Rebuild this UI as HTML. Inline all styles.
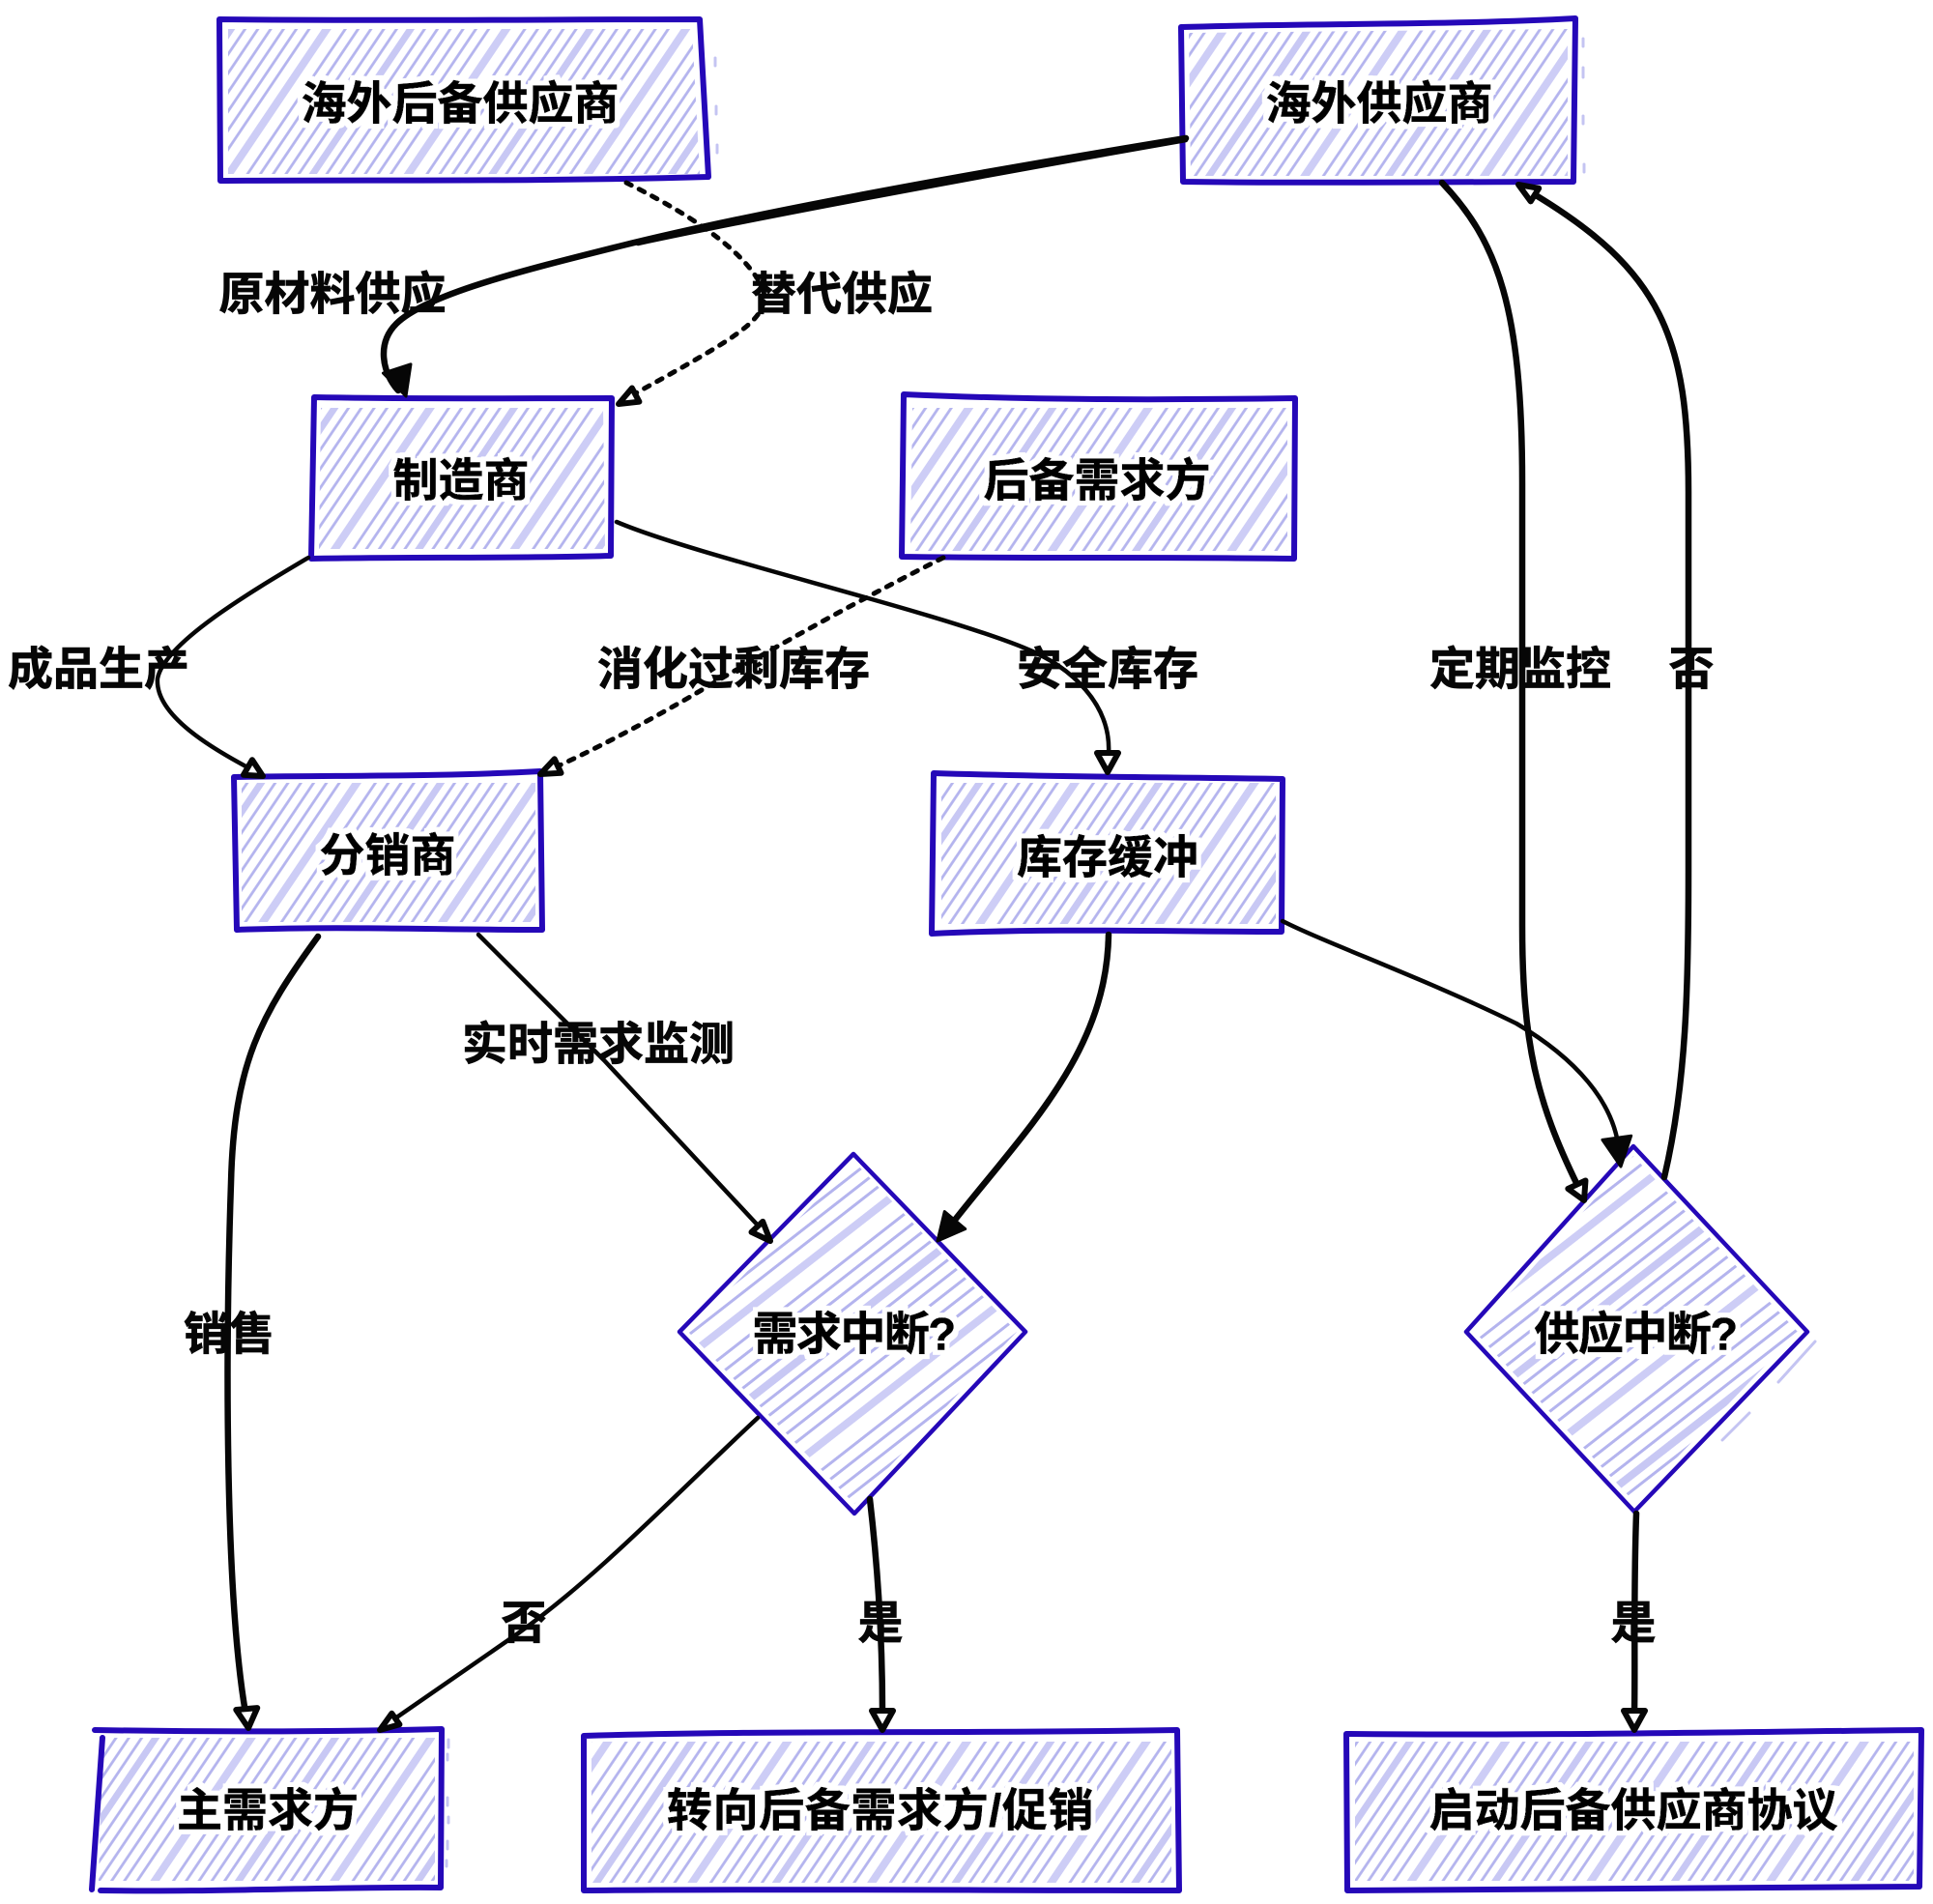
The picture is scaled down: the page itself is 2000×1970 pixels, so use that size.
<!DOCTYPE html>
<html lang="zh">
<head>
<meta charset="utf-8">
<style>
html,body{margin:0;padding:0;background:#fff}
svg{display:block}
text{font-family:"Liberation Sans","Noto Sans CJK SC","WenQuanYi Zen Hei",sans-serif;font-size:47px;font-weight:700;fill:#060606;stroke:#060606;stroke-width:.7px;text-anchor:middle;dominant-baseline:central}
.n{filter:url(#halo)}
.b{fill:none;stroke:#2508b8;stroke-width:6;stroke-linecap:round;stroke-linejoin:round}
.d{fill:none;stroke:#2508b8;stroke-width:4.5;stroke-linecap:round;stroke-linejoin:round}
.e{fill:none;stroke:#060606;stroke-width:4.5;stroke-linecap:round;stroke-linejoin:round}
.t{stroke-width:6.5}
.dash{stroke-dasharray:6 9;stroke-width:5}
.af{fill:#060606;stroke:#060606;stroke-width:3;stroke-linejoin:round}
.ao{fill:#fff;stroke:#060606;stroke-width:6;stroke-linejoin:round}
.s{fill:none;stroke:#c4c4f2;stroke-width:3;stroke-linecap:round}
</style>
</head>
<body>
<svg xmlns="http://www.w3.org/2000/svg" width="2000" height="1970" viewBox="0 0 2000 1970">
<defs>
<filter id="halo" x="-10%" y="-30%" width="120%" height="160%">
<feMorphology in="SourceAlpha" operator="dilate" radius="5" result="m"/>
<feFlood flood-color="#fff"/>
<feComposite in2="m" operator="in" result="w"/>
<feMerge><feMergeNode in="w"/><feMergeNode in="SourceGraphic"/></feMerge>
</filter>
<g id="hl" fill="none" stroke="#b4b4ee">
<path d="M5 0V154M16 0V154M27 0V154M38 0V154M49 0V154" stroke-width="2.8"/>
<path d="M61 0V154" stroke-width="7" stroke="#c8c8f4"/>
<path d="M73 0V154M84 0V154M95 0V154M106 0V154M117 0V154M128 0V154" stroke-width="2.8"/>
<path d="M143 0V154" stroke-width="8" stroke="#cdcdf6"/>
</g>
<g id="hm" fill="none" stroke="#b4b4ee">
<path d="M6 0V156M19 0V156M32 0V156M45 0V156" stroke-width="3"/>
<path d="M58 0V156" stroke-width="8" stroke="#c8c8f4"/>
<path d="M71 0V156M84 0V156M97 0V156M110 0V156M123 0V156" stroke-width="3"/>
<path d="M140 0V156" stroke-width="8" stroke="#cdcdf6"/>
</g>
<pattern id="hr" patternUnits="userSpaceOnUse" width="154" height="154" patternTransform="rotate(34)"><use href="#hl"/></pattern>
<pattern id="hd" patternUnits="userSpaceOnUse" width="156" height="156" patternTransform="rotate(52)"><use href="#hm"/></pattern>
</defs>

<!-- hatch fills -->
<g fill="url(#hr)">
<polygon points="236,30 716,30 724,180 236,180"/>
<polygon points="1230,34 1622,30 1622,182 1232,182"/>
<polygon points="332,422 624,422 626,568 330,568"/>
<polygon points="944,422 1332,422 1332,570 942,570"/>
<polygon points="250,810 554,810 554,954 250,954"/>
<polygon points="974,810 1320,810 1320,956 974,956"/>
<polygon points="106,1798 450,1798 450,1946 102,1946"/>
<polygon points="612,1802 1212,1802 1212,1948 612,1948"/>
<polygon points="1402,1802 1980,1802 1980,1946 1402,1946"/>
</g>
<g fill="url(#hd)">
<polygon points="884,1202 1052,1378 884,1556 712,1378"/>
<polygon points="1690,1196 1860,1378 1691,1554 1526,1378"/>
</g>

<!-- stray sketch marks -->
<path class="s" d="M464 1800v8M463 1815v6M463 1860v8M464 1880v6M463 1905v8M462 1925v6"/>
<path class="s" d="M1638 40v8M1638 70v10M1638 120v8M1639 170v8"/>
<path class="s" d="M1878 1388L1840 1430M1810 1462L1782 1490"/>
<path class="s" d="M740 60v8M741 110v8M742 150v8"/>

<!-- node outlines -->
<path class="b" d="M227 20 C400 22 560 20 724 20 L733 183 C560 188 400 186 228 187 Z"/>
<path class="b" d="M1222 28 C1360 24 1500 26 1630 19 L1628 188 C1500 188 1360 190 1224 188 Z"/>
<path class="b" d="M325 411 C430 413 530 412 633 412 L632 575 C530 578 430 576 322 578 Z"/>
<path class="b" d="M935 408 C1070 414 1200 414 1340 412 L1339 578 C1200 576 1070 578 933 576 Z"/>
<path class="b" d="M242 804 C350 802 450 804 559 798 L561 962 M561 962 C450 962 350 958 245 962 L242 804"/>
<path class="b" d="M966 800 C1090 804 1210 804 1327 806 L1326 964 C1210 964 1090 960 964 966 Z"/>
<path class="b" d="M98 1790 C220 1792 340 1792 457 1789 L456 1953 C340 1952 220 1958 104 1956 M106 1798 L95 1955"/>
<path class="b" d="M604 1796 C800 1790 1000 1794 1218 1790 L1220 1956 C1000 1956 800 1954 604 1956 Z"/>
<path class="b" d="M1393 1794 C1590 1796 1790 1792 1988 1790 L1986 1952 C1790 1952 1590 1956 1394 1956 Z"/>
<path class="d" d="M883 1194 L1061 1378 L884 1566 L703 1378 Z"/>
<path class="d" d="M1690 1186 L1870 1378 L1691 1564 L1517 1378 Z"/>

<!-- edge labels -->
<text x="344" y="304">原材料供应</text>
<text x="871" y="304">替代供应</text>
<text x="102" y="692">成品生产</text>
<text x="759" y="692">消化过剩库存</text>
<text x="1146" y="692">安全库存</text>
<text x="1573" y="692">定期监控</text>
<text x="1750" y="692">否</text>
<text x="619" y="1080">实时需求监测</text>
<text x="237" y="1380">销售</text>
<text x="542" y="1679">否</text>
<text x="911" y="1679">是</text>
<text x="1690" y="1679">是</text>

<!-- connectors -->
<path class="e t" d="M1227 143 C1050 172 800 215 640 255 C540 280 440 305 410 335 C390 355 395 385 412 404"/>
<path class="e" d="M1227 145 C1050 176 800 222 660 252"/>
<path class="e dash" d="M648 189 C700 215 770 255 790 300 C795 330 770 345 652 410"/>
<path class="e" d="M319 577 C260 612 170 665 163 702 C160 740 220 775 262 797"/>
<path class="e dash" d="M976 577 C900 615 800 670 714 721 C660 752 610 778 572 795"/>
<path class="e" d="M638 540 C720 575 960 630 1059 670 C1110 690 1150 730 1147 780"/>
<path class="e t" d="M329 969 C270 1050 242 1100 239 1224 C233 1400 233 1650 254 1772"/>
<path class="e" d="M495 967 L625 1097 L788 1272"/>
<path class="e t" d="M1147 967 C1145 1090 1060 1170 985 1266"/>
<path class="e" d="M1327 953 C1370 975 1480 1015 1569 1059 C1630 1095 1670 1140 1675 1190"/>
<path class="e t" d="M1492 189 C1550 250 1575 320 1575 500 L1575 957 C1575 1080 1590 1140 1632 1226"/>
<path class="e t" d="M1722 1218 C1745 1120 1747 1020 1747 900 L1747 510 C1747 350 1720 280 1584 199"/>
<path class="e t" d="M900 1551 C908 1620 913 1690 913 1772"/>
<path class="e" d="M784 1467 C700 1545 620 1630 536 1690 L406 1780"/>
<path class="e t" d="M1693 1566 C1690 1650 1692 1720 1691 1772"/>

<!-- arrowheads -->
<g transform="translate(420 410) rotate(72)"><polygon class="af" points="0,0 -30,-15 -30,15"/></g>
<g transform="translate(640 418) rotate(152)"><polygon class="ao" points="0,0 -20,-8 -20,8"/></g>
<g transform="translate(272 803) rotate(30)"><polygon class="ao" points="0,0 -18,-9 -18,9"/></g>
<g transform="translate(559 801) rotate(155)"><polygon class="ao" points="0,0 -20,-8 -20,8"/></g>
<g transform="translate(1146 799) rotate(90)"><polygon class="ao" points="0,0 -20,-11 -20,11"/></g>
<g transform="translate(257 1788) rotate(85)"><polygon class="ao" points="0,0 -20,-11 -20,11"/></g>
<g transform="translate(797 1284) rotate(47)"><polygon class="ao" points="0,0 -20,-8 -20,8"/></g>
<g transform="translate(970 1284) rotate(130)"><polygon class="af" points="0,0 -28,-14 -28,14"/></g>
<g transform="translate(1677 1207) rotate(82)"><polygon class="af" points="0,0 -30,-15 -30,15"/></g>
<g transform="translate(1639 1242) rotate(65)"><polygon class="ao" points="0,0 -18,-10 -18,10"/></g>
<g transform="translate(1571 191) rotate(212)"><polygon class="ao" points="0,0 -20,-8 -20,8"/></g>
<g transform="translate(913 1790) rotate(90)"><polygon class="ao" points="0,0 -20,-11 -20,11"/></g>
<g transform="translate(393 1790) rotate(145)"><polygon class="ao" points="0,0 -20,-7 -20,7"/></g>
<g transform="translate(1691 1790) rotate(90)"><polygon class="ao" points="0,0 -20,-11 -20,11"/></g>

<!-- node labels -->
<text class="n" x="476" y="107">海外后备供应商</text>
<text class="n" x="1427" y="107">海外供应商</text>
<text class="n" x="477" y="497">制造商</text>
<text class="n" x="1135" y="497">后备需求方</text>
<text class="n" x="401" y="885">分销商</text>
<text class="n" x="1146" y="887">库存缓冲</text>
<text class="n" x="883" y="1380" style="letter-spacing:-1.5px">需求中断?</text>
<text class="n" x="1692" y="1380" style="letter-spacing:-1.5px">供应中断?</text>
<text class="n" x="277" y="1873">主需求方</text>
<text class="n" x="911" y="1873" style="letter-spacing:.6px">转向后备需求方/促销</text>
<text class="n" x="1690" y="1873">启动后备供应商协议</text>
</svg>
</body>
</html>
